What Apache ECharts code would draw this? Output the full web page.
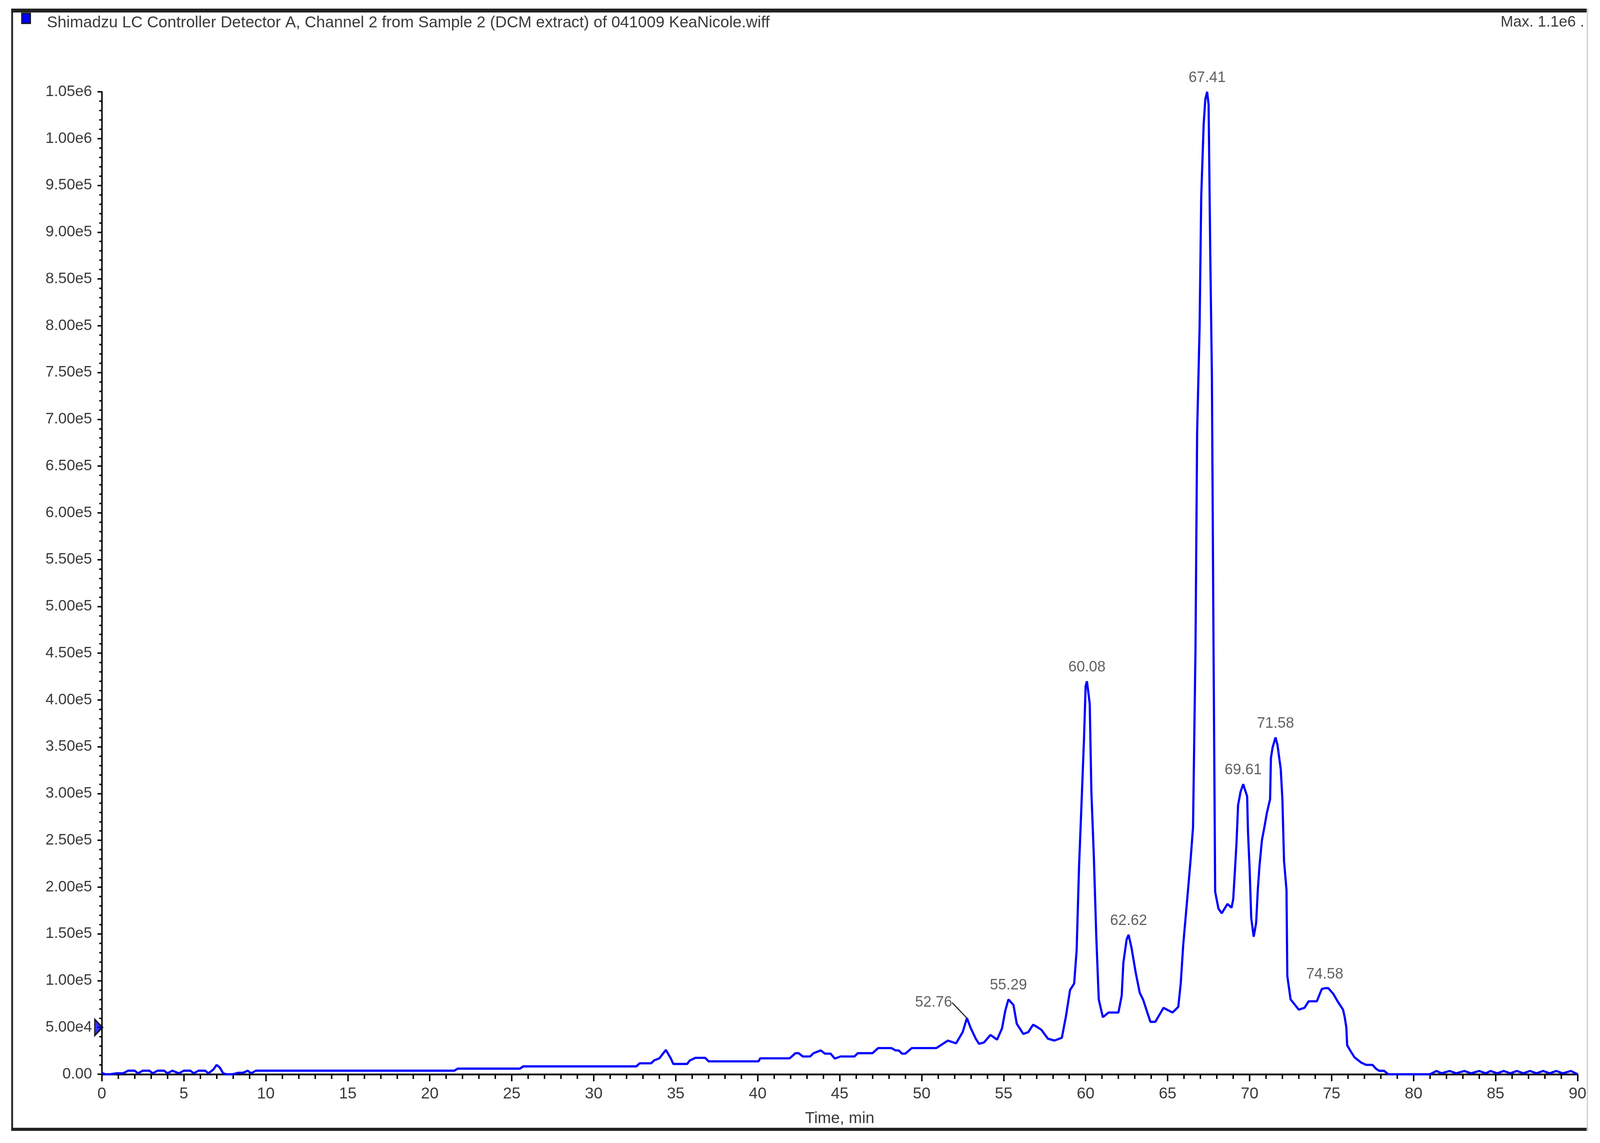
<!DOCTYPE html>
<html>
<head>
<meta charset="utf-8">
<script src="https://cdn.jsdelivr.net/npm/echarts@6/dist/echarts.min.js"></script>
<style>
html,body{margin:0;padding:0;background:#fff;overflow:hidden;}
#chart{width:100vw;height:100vh;}
</style>
</head>
<body>
<div id="chart"></div>
<script>
// ---- data ----
const titleText = "Shimadzu LC Controller Detector A, Channel 2 from Sample 2 (DCM extract) of 041009 KeaNicole.wiff";
const maxText = "Max. 1.1e6 .";
const xAxisName = "Time, min";

const timeMin = [
  0,0.2,0.5,0.9,1.3,1.6,2.0,2.2,2.5,2.9,
  3.1,3.4,3.8,4.0,4.3,4.7,5.0,5.4,5.6,5.9,
  6.3,6.5,6.8,7.0,7.2,7.4,7.6,8.0,8.3,8.6,
  8.9,9.1,9.4,21.5,21.7,25.5,25.7,32.6,32.8,33.5,
  33.7,34.0,34.4,34.7,34.85,35.7,35.85,36.2,36.8,37.0,
  40.05,40.15,41.95,42.3,42.5,42.75,43.2,43.4,43.85,44.1,
  44.45,44.7,45.05,45.9,46.1,47.0,47.35,48.15,48.4,48.6,
  48.8,49.0,49.4,50.9,51.6,52.1,52.5,52.76,53.0,53.3,
  53.5,53.8,54.2,54.6,54.9,55.1,55.29,55.6,55.8,56.2,
  56.5,56.8,57.0,57.3,57.7,58.1,58.55,58.8,59.05,59.3,
  59.45,59.6,59.7,59.9,60.0,60.08,60.25,60.35,60.5,60.65,
  60.8,61.05,61.4,62.0,62.2,62.3,62.5,62.62,62.8,63.05,
  63.3,63.5,63.95,64.25,64.75,65.3,65.65,65.8,65.95,66.2,
  66.4,66.55,66.7,66.8,66.95,67.05,67.2,67.3,67.41,67.5,
  67.6,67.7,67.8,67.9,68.1,68.3,68.65,68.9,69.0,69.1,
  69.2,69.3,69.45,69.61,69.85,69.9,70.0,70.1,70.25,70.4,
  70.5,70.6,70.75,70.9,71.05,71.25,71.3,71.4,71.58,71.7,
  71.9,72.0,72.1,72.25,72.3,72.5,73.0,73.35,73.6,74.1,
  74.4,74.6,74.8,75.1,75.4,75.7,75.8,75.9,75.95,76.15,
  76.4,76.8,77.1,77.5,77.7,77.9,78.2,78.45,81.0,81.4,
  81.7,82.2,82.6,83.1,83.5,84.0,84.4,84.7,85.1,85.5,
  85.9,86.3,86.7,87.1,87.5,87.9,88.3,88.7,89.1,89.6,
  90.0
];
const intensity = [
  1500,0,0,1000,1000,3800,3800,1000,3800,3800,
  1000,3800,3800,1000,3800,1000,3800,3800,1000,3800,
  3800,1000,5000,10000,7000,1000,0,0,1500,1500,
  3800,1000,3800,3800,6000,6000,8400,8400,11700,11700,
  15000,17000,26000,17000,11000,11000,14600,17500,17500,13800,
  13800,17000,17000,22500,22500,19000,19000,22500,25500,22000,
  22000,16700,19000,19000,22500,22500,28000,28000,25500,25500,
  22000,22000,28000,28000,36000,33000,45000,60000,49000,38000,
  32500,34000,42000,37000,49000,68000,80000,74000,54000,43000,
  45000,53000,51000,47500,38000,36000,39000,62000,90000,97000,
  132000,223000,267000,358000,415000,420000,396000,302000,233000,147000,
  80000,61000,66000,66000,84000,119000,144000,149000,135000,109000,
  87000,80000,56000,56000,71000,66000,72000,97000,138000,188000,
  229000,264000,455000,686000,798000,938000,1016000,1042000,1050000,1036000,
  878000,748000,457000,195000,177000,172000,182000,178000,187000,216000,
  247000,288000,302000,310000,297000,260000,220000,167000,147000,162000,
  197000,222000,250000,264000,279000,294000,338000,349000,360000,352000,
  326000,294000,228000,197000,105000,80000,69000,71000,78000,78000,
  91000,92000,92000,86000,77000,69000,61000,50000,31000,25000,
  18000,12500,10000,10000,6000,3700,3700,0,0,3500,
  1000,3500,1000,3500,1000,3500,1000,3500,1000,3500,
  1000,3500,1000,3500,1000,3500,1000,3500,1000,3500,
  0
];
const peakTimes = [52.76, 55.29, 60.08, 62.62, 67.41, 69.61, 71.58, 74.58];
const peakIntensity = [60000, 80000, 420000, 149000, 1050000, 310000, 360000, 92000];
const markerTime = [0];
const markerLevel = [50000];

// ---- layout scaling (reference designed at 4415 x 2926) ----
const el = document.getElementById('chart');
const W = el.clientWidth || window.innerWidth || 4415;
const H = el.clientHeight || window.innerHeight || 2926;
const sx = W / 4415, sy = H / 2926, sf = Math.min(sx, sy);
const X = v => v * sx, Y = v => v * sy, S = v => v * sf;

const FONT = "'Liberation Sans', Arial, sans-serif";
const TXT = '#3a3a3a';
const chart = echarts.init(el, null, {renderer: 'canvas'});

function yFmt(v) {
  if (v === 0) return '0.00';
  return v.toExponential(2).replace('e+', 'e');
}

const traceData = timeMin.map((t, i) => [t, intensity[i]]);
const peakData = peakTimes.map((t, i) => {
  const item = {value: [t, peakIntensity[i]]};
  if (i === 0) item.labelLine = {show: true};
  return item;
});
const markerData = markerTime.map((t, i) => [t, markerLevel[i]]);

const option = {
  animation: false,
  backgroundColor: '#ffffff',
  grid: {left: X(281), right: X(62), top: Y(235), bottom: Y(176), containLabel: false},
  title: [
    {text: titleText, left: X(124), top: Y(33),
     textStyle: {fontFamily: FONT, fontSize: S(44), fontWeight: 'normal', color: TXT}},
    {text: maxText, right: X(38), top: Y(33),
     textStyle: {fontFamily: FONT, fontSize: S(42), fontWeight: 'normal', color: TXT}}
  ],
  xAxis: {
    type: 'value', min: 0, max: 90, interval: 5,
    name: xAxisName, nameLocation: 'middle', nameGap: Y(93),
    nameTextStyle: {fontFamily: FONT, fontSize: S(44), color: TXT, verticalAlign: 'top'},
    axisLine: {show: true, lineStyle: {color: '#000', width: S(5)}},
    axisTick: {show: true, length: Y(18), lineStyle: {color: '#000', width: S(4)}},
    minorTick: {show: true, splitNumber: 5, length: Y(12), lineStyle: {color: '#000', width: S(4)}},
    splitLine: {show: false},
    axisLabel: {fontFamily: FONT, fontSize: S(44), color: TXT, margin: Y(30)}
  },
  yAxis: {
    type: 'value', min: 0, max: 1050000, interval: 50000,
    axisLine: {show: true, lineStyle: {color: '#000', width: S(4)}},
    axisTick: {show: true, length: X(12), lineStyle: {color: '#000', width: S(4)}},
    minorTick: {show: true, splitNumber: 5, length: X(7), lineStyle: {color: '#000', width: S(4)}},
    splitLine: {show: false},
    axisLabel: {fontFamily: FONT, fontSize: S(42), color: TXT, margin: X(27), formatter: yFmt}
  },
  series: [
    {
      type: 'line', name: 'Detector A', data: traceData,
      symbol: 'none', showSymbol: false, clip: false,
      lineStyle: {color: '#0000ff', width: S(6)},
      z: 3
    },
    {
      type: 'scatter', name: 'peaks', data: peakData,
      symbolSize: 1, itemStyle: {color: 'rgba(0,0,0,0)'}, clip: false,
      label: {
        show: true, position: 'top', distance: Y(16),
        fontFamily: FONT, fontSize: S(41), color: TXT,
        formatter: p => p.value[0].toFixed(2)
      },
      labelLine: {show: false, lineStyle: {color: '#222', width: S(3)}},
      labelLayout: p => (p.dataIndex === 0 ? {dx: X(-92), dy: Y(-4)} : {}),
      z: 4
    },
    {
      type: 'scatter', name: 'marker', data: markerData,
      symbol: 'path://M0,0 L10,5 L0,10 Z', symbolSize: [X(22), Y(42)], symbolOffset: [X(-9), 0],
      itemStyle: {color: '#0000ff', borderColor: '#000', borderWidth: S(4)},
      clip: false, z: 5
    }
  ],
  graphic: [
    {type: 'rect', silent: true, shape: {x: X(31), y: Y(22), width: X(4351), height: Y(10)}, style: {fill: '#222'}},
    {type: 'rect', silent: true, shape: {x: X(31), y: Y(22), width: X(5), height: Y(2873)}, style: {fill: '#222'}},
    {type: 'rect', silent: true, shape: {x: X(31), y: Y(2887), width: X(4351), height: Y(8)}, style: {fill: '#222'}},
    {type: 'rect', silent: true, shape: {x: X(4378), y: Y(22), width: X(4), height: Y(2873)}, style: {fill: '#d4d4d4'}},
    {type: 'rect', silent: true, shape: {x: X(60), y: Y(34), width: X(24), height: Y(26)}, style: {fill: '#0000ff', stroke: '#111', lineWidth: S(3)}}
  ]
};
chart.setOption(option);
</script>
</body>
</html>
